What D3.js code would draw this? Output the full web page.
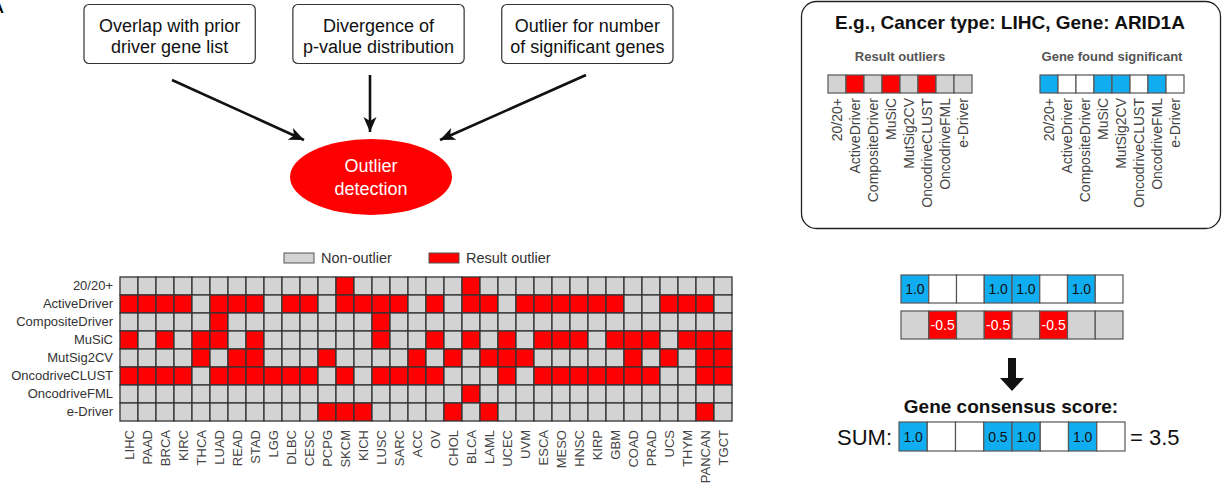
<!DOCTYPE html>
<html><head><meta charset="utf-8">
<script src="https://cdn.jsdelivr.net/npm/d3@7"></script>
<style>
body{margin:0;background:#fff;}
svg{display:block;font-family:"Liberation Sans",Arial,sans-serif;}
</style>
</head><body>
<svg id="c" width="1226" height="494"></svg>
<script>
// ---------------- DATA ----------------
const methods = ["20/20+","ActiveDriver","CompositeDriver","MuSiC","MutSig2CV","OncodriveCLUST","OncodriveFML","e-Driver"];
const cancers = ["LIHC","PAAD","BRCA","KIRC","THCA","LUAD","READ","STAD","LGG","DLBC","CESC","PCPG","SKCM","KICH","LUSC","SARC","ACC","OV","CHOL","BLCA","LAML","UCEC","UVM","ESCA","MESO","HNSC","KIRP","GBM","COAD","PRAD","UCS","THYM","PANCAN","TGCT"];
// one string per method, one char per cancer type: 1 = result outlier, 0 = non-outlier
const outlierRows = [
  "0000000000001000000100000000000000",
  "1111011101101111010110111111001110",
  "0000010000000010000000000000000000",
  "1010110100000010010101011101110111",
  "0000101100010000101011100000101011",
  "1111011111101011110001011111110011",
  "0000000000000000000100000000000000",
  "0000000000011100001010000000000010"
];
const legendLabels = ["Non-outlier","Result outlier"];
const flowTexts = [["Overlap with prior","driver gene list"],["Divergence of","p-value distribution"],["Outlier for number","of significant genes"]];
const hubText = ["Outlier","detection"];
const exampleTitle = "E.g., Cancer type: LIHC, Gene: ARID1A";
const exampleOutlier = [0,1,0,1,0,1,0,0];
const exampleSignificant = [1,0,0,1,1,0,1,0];
const sigScores = [1.0,null,null,1.0,1.0,null,1.0,null];
const penaltyScores = [null,-0.5,null,-0.5,null,-0.5,null,null];
const consensusScores = [1.0,null,null,0.5,1.0,null,1.0,null];
const consensusTotal = 3.5;

// ---------------- STYLE ----------------
const RED = "#ff0000", GRAY = "#d3d3d3", BLUE = "#10aef0";
const svg = d3.select("#c");
const fmt = v => v===null ? "" : v.toFixed(1);

// Panel letter (clipped at edge, as in the source figure)
svg.append("text").attr("x",-7).attr("y",13).attr("font-size",15).attr("font-weight","bold").text("A");

// ---------------- FLOW DIAGRAM ----------------
const defs = svg.append("defs");
defs.append("marker").attr("id","ah").attr("viewBox","-16 -8 18 16")
  .attr("refX",0).attr("refY",0).attr("markerWidth",18).attr("markerHeight",16)
  .attr("markerUnits","userSpaceOnUse").attr("orient","auto")
  .append("path").attr("d","M0,0 L-15,-6.5 L-11,0 L-15,6.5 Z").attr("fill","#111");

const boxX = d3.scaleBand().domain(d3.range(flowTexts.length)).range([84,673]).paddingInner(0.18);
const boxes = svg.append("g").selectAll("g").data(flowTexts).join("g")
  .attr("transform",(d,i)=>`translate(${boxX(i)},4.5)`);
boxes.append("rect").attr("width",boxX.bandwidth()).attr("height",59).attr("rx",5)
  .attr("fill","#fff").attr("stroke","#333").attr("stroke-width",1.2);
boxes.selectAll("text").data(d=>d).join("text")
  .attr("x",boxX.bandwidth()/2).attr("y",(d,i)=>27+i*21)
  .attr("text-anchor","middle").attr("font-size",18).attr("fill","#111").text(d=>d);

const arrows = [[172,80,304,140],[370,75,370,132],[586,75,440,140]];
svg.append("g").selectAll("line").data(arrows).join("line")
  .attr("x1",d=>d[0]).attr("y1",d=>d[1]).attr("x2",d=>d[2]).attr("y2",d=>d[3])
  .attr("stroke","#111").attr("stroke-width",2.6).attr("marker-end","url(#ah)");

svg.append("ellipse").attr("cx",371).attr("cy",177).attr("rx",81).attr("ry",38).attr("fill",RED);
svg.append("g").selectAll("text").data(hubText).join("text")
  .attr("x",371).attr("y",(d,i)=>172+i*23).attr("text-anchor","middle")
  .attr("font-size",18).attr("fill","#fff").text(d=>d);

// ---------------- HEATMAP ----------------
const x = d3.scaleBand().domain(cancers).range([120,732]);
const y = d3.scaleBand().domain(methods).range([277,421]);
const cells = [];
methods.forEach((m,r)=>cancers.forEach((c,k)=>cells.push({m,c,v:+outlierRows[r][k]})));
const hm = svg.append("g");
hm.selectAll("rect").data(cells).join("rect")
  .attr("x",d=>x(d.c)).attr("y",d=>y(d.m)).attr("width",x.bandwidth()).attr("height",y.bandwidth())
  .attr("fill",d=>d.v?RED:GRAY).attr("stroke","#333").attr("stroke-width",1.3);

const yAxis = svg.append("g").attr("transform","translate(120,0)")
  .call(d3.axisLeft(y).tickSize(0).tickPadding(7));
yAxis.select(".domain").remove();
yAxis.selectAll("text").attr("font-size",13).attr("fill","#333").attr("font-family","Liberation Sans, Arial, sans-serif");

const xAxis = svg.append("g").attr("transform","translate(0,421)")
  .call(d3.axisBottom(x).tickSize(0).tickPadding(0));
xAxis.select(".domain").remove();
xAxis.selectAll("text").attr("font-size",13).attr("fill","#444").attr("font-family","Liberation Sans, Arial, sans-serif")
  .attr("transform","rotate(-90)").attr("text-anchor","end").attr("dy","0.35em").attr("x",-9).attr("y",0);

// legend
const lg = svg.append("g").selectAll("g").data(legendLabels).join("g")
  .attr("transform",(d,i)=>`translate(${[284,429][i]},253)`);
lg.append("rect").attr("width",30).attr("height",10).attr("fill",(d,i)=>i?RED:GRAY).attr("stroke","#555").attr("stroke-width",1);
lg.append("text").attr("x",37).attr("y",10).attr("font-size",14.5).attr("fill","#333").text(d=>d);

// ---------------- EXAMPLE BOX ----------------
svg.append("rect").attr("x",801.5).attr("y",1.5).attr("width",419).attr("height",227).attr("rx",15)
  .attr("fill","#fff").attr("stroke","#222").attr("stroke-width",1.3);
svg.append("text").attr("x",1010).attr("y",29).attr("text-anchor","middle").attr("font-size",19)
  .attr("font-weight","bold").attr("fill","#111").text(exampleTitle);

function strip(x0, title, vals, onColor, offColor){
  const sx = d3.scaleBand().domain(methods).range([x0,x0+144]);
  const g = svg.append("g");
  g.append("text").attr("x",x0+72).attr("y",61).attr("text-anchor","middle").attr("font-size",13)
    .attr("font-weight","bold").attr("fill","#555").text(title);
  g.selectAll("rect").data(methods).join("rect")
    .attr("x",d=>sx(d)).attr("y",75).attr("width",sx.bandwidth()).attr("height",18)
    .attr("fill",(d,i)=>vals[i]?onColor:offColor).attr("stroke","#555").attr("stroke-width",1.2);
  const ax = g.append("g").attr("transform","translate(0,93)").call(d3.axisBottom(sx).tickSize(0).tickPadding(0));
  ax.select(".domain").remove();
  ax.selectAll("text").attr("font-size",14).attr("fill","#444").attr("font-family","Liberation Sans, Arial, sans-serif")
    .attr("transform","rotate(-90)").attr("text-anchor","end").attr("dy","0.35em").attr("x",-5).attr("y",0);
}
strip(828,"Result outliers",exampleOutlier,RED,GRAY);
strip(1040,"Gene found significant",exampleSignificant,BLUE,"#fff");

// ---------------- SCORE STRIPS ----------------
function scoreStrip(x0,x1,y0,h,vals,onColor,offColor,textColor){
  const sx = d3.scaleBand().domain(d3.range(vals.length)).range([x0,x1]);
  const g = svg.append("g");
  g.selectAll("rect").data(vals).join("rect")
    .attr("x",(d,i)=>sx(i)).attr("y",y0).attr("width",sx.bandwidth()).attr("height",h)
    .attr("fill",d=>d!==null?onColor:offColor).attr("stroke","#555").attr("stroke-width",1.2);
  g.selectAll("text").data(vals).join("text")
    .attr("x",(d,i)=>sx(i)+sx.bandwidth()/2).attr("y",y0+h/2+5).attr("text-anchor","middle")
    .attr("font-size",14).attr("fill",textColor).text(fmt);
}
scoreStrip(901,1123,275,28,sigScores,BLUE,"#fff","#111");
scoreStrip(901,1123,311,28,penaltyScores,RED,GRAY,"#fff");

// down arrow
svg.append("path").attr("d","M1008,358 L1016,358 L1016,378 L1024,378 L1012,391 L1000,378 L1008,378 Z").attr("fill","#111");

svg.append("text").attr("x",1011).attr("y",413).attr("text-anchor","middle").attr("font-size",19)
  .attr("font-weight","bold").attr("fill","#111").text("Gene consensus score:");
svg.append("text").attr("x",837).attr("y",445).attr("font-size",22).attr("fill","#111").text("SUM:");
scoreStrip(899,1125,422,29,consensusScores,BLUE,"#fff","#111");
svg.append("text").attr("x",1130).attr("y",445).attr("font-size",22).attr("fill","#111").text("= " + consensusTotal);
</script>
</body></html>
